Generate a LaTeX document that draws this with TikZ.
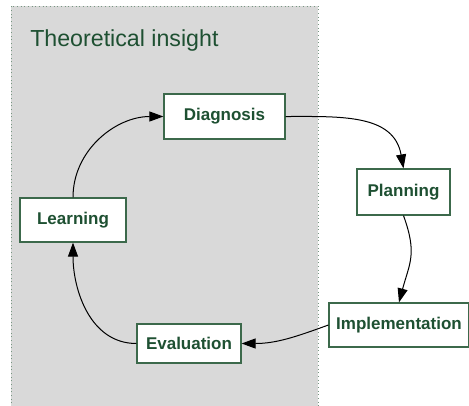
\documentclass[tikz,border=0pt]{standalone}
\usepackage{fontspec}
\setmainfont{Liberation Sans}
\usepackage{tikz}
\usetikzlibrary{arrows.meta,positioning}
\definecolor{darkgreen}{RGB}{30,80,50}
\definecolor{boxline}{RGB}{60,105,75}
\definecolor{insightgray}{RGB}{217,217,217}
\definecolor{dotline}{RGB}{120,150,130}
\tikzstyle{block} = [rectangle, draw=boxline, fill=white, line width=0.9pt,
text=darkgreen, font=\fontsize{12.75}{15}\selectfont\bfseries, inner sep=0pt]
\tikzstyle{cycleline} = [draw, line width=0.75pt, -{Triangle[length=10.5pt,width=7.5pt]}]

\begin{document}
\begin{tikzpicture}[x=0.75pt, y=-0.75pt]
\useasboundingbox (0,0) rectangle (469,405);
% Background
\fill [insightgray] (11,6) rectangle (318,407);
\draw [dotline, dotted, line width=0.75pt] (11,407) -- (11,6) -- (318,6) -- (318,407);
\node [anchor=base west, inner sep=0pt, text=darkgreen,
font=\fontsize{17.4}{20}\selectfont] (title) at (30,46) {Theoretical insight};

% Place nodes
\node [block, minimum width=90.75pt, minimum height=33.75pt] (dia) at (224.5,116.5) {Diagnosis};
\node [block, minimum width=69.75pt, minimum height=34.5pt] (pla) at (403.5,192) {Planning};
\node [block, minimum width=105pt, minimum height=33pt] (imp) at (399,325) {Implementation};
\node [block, minimum width=78pt, minimum height=29.25pt] (eva) at (189,343.5) {Evaluation};
\node [block, minimum width=79.5pt, minimum height=33pt] (lea) at (73,220) {Learning};

% Draw edges
\path [cycleline] (dia.east) to [out=0, in=100, looseness=1.1] (pla.north);
\path [cycleline] (pla.south) to [out=-70, in=75, looseness=1.2] (imp.north);
\path [cycleline] (imp.west) to [out=200, in=0] (eva.east);
\path [cycleline] (eva.west) to [out=180, in=-90] (lea.south);
\path [cycleline] (lea.north) to [out=90, in=180] (dia.west);
\end{tikzpicture}
\end{document}
